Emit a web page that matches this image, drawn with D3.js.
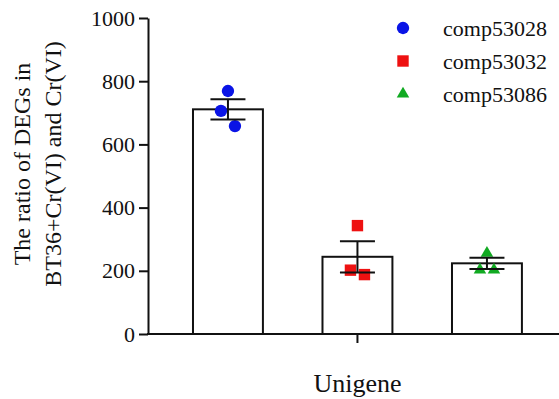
<!DOCTYPE html>
<html>
<head>
<meta charset="utf-8">
<script src="https://cdn.jsdelivr.net/npm/d3@7"></script>
<style>
  body { margin: 0; background: #fff; }
</style>
</head>
<body>
<div class="plot"></div>
<script>
// genes on the x axis (one bar each)
const genes = ["comp53028", "comp53032", "comp53086"]
const geneColors = ["#0a14e6", "#ee1111", "#11aa22"]
const geneShapes = ["circle", "square", "triangle"]
// replicate values
const rep53028 = [769, 706, 658]
const rep53032 = [343, 202, 188]
const rep53086 = [259, 206, 206]
const yTicks = [0, 200, 400, 600, 800, 1000]
const xLabel = "Unigene"
const yLabel = ["The ratio of DEGs in", "BT36+Cr(VI) and Cr(VI)"]

const replicates = [rep53028, rep53032, rep53086]
const dataset = genes.map(function(g, i){
  let vals = replicates[i]
  let m = d3.mean(vals)
  let sem = d3.deviation(vals) / Math.sqrt(vals.length)
  return {name: g, values: vals, mean: m, sem: sem, color: geneColors[i], shape: geneShapes[i]}
})

const W = 559, H = 399
const serif = "'Liberation Serif', 'Times New Roman', 'DejaVu Serif', serif"
let svg = d3.select(".plot").append("svg")
  .attr("width", W).attr("height", H)
  .attr("font-family", serif)
  .style("font-family", serif)

let axisX0 = 148, axisX1 = 559
let yScale = d3.scaleLinear().domain([0, 1000]).range([334, 18])
let xScale = d3.scaleBand().domain(genes)
  .range([163.2, 551.7])
  .paddingInner(0.46).paddingOuter(0.23)

let symType = {circle: d3.symbolCircle, square: d3.symbolSquare, triangle: d3.symbolTriangle}
let symSize = {circle: 120, square: 130, triangle: 68}
function symbol(shape){
  return d3.symbol().type(symType[shape]).size(symSize[shape])()
}

// bars
svg.selectAll(".bar")
  .data(dataset)
  .enter()
  .append("rect")
  .attr("class", "bar")
  .attr("x", d => xScale(d.name))
  .attr("y", d => yScale(d.mean))
  .attr("width", xScale.bandwidth())
  .attr("height", d => yScale(0) - yScale(d.mean))
  .attr("fill", "#fff")
  .attr("stroke", "#111")
  .attr("stroke-width", 2)

// replicate points, spread like prism does
let jitter = [0, -7, 7]
svg.selectAll(".pt")
  .data(dataset.flatMap(d => d.values.map((v, j) => ({d: d, v: v, j: j}))))
  .enter()
  .append("path")
  .attr("class", "pt")
  .attr("d", p => symbol(p.d.shape))
  .attr("transform", function(p){
    let cx = xScale(p.d.name) + xScale.bandwidth() / 2 + jitter[p.j]
    let cy = yScale(p.v) + (p.d.shape == "triangle" ? 1 : 0)
    return "translate(" + cx + "," + cy + ")"
  })
  .attr("fill", p => p.d.color)

// error bars (mean +/- sem)
let err = svg.selectAll(".err")
  .data(dataset)
  .enter()
  .append("g")
  .attr("class", "err")
  .attr("stroke", "#111")
  .attr("stroke-width", 2)
err.append("line")
  .attr("x1", d => xScale(d.name) + xScale.bandwidth() / 2)
  .attr("x2", d => xScale(d.name) + xScale.bandwidth() / 2)
  .attr("y1", d => yScale(d.mean + d.sem))
  .attr("y2", d => yScale(d.mean - d.sem))
;[1, -1].forEach(function(s){
  err.append("line")
    .attr("x1", d => xScale(d.name) + xScale.bandwidth() / 2 - 17.5)
    .attr("x2", d => xScale(d.name) + xScale.bandwidth() / 2 + 17.5)
    .attr("y1", d => yScale(d.mean + s * d.sem))
    .attr("y2", d => yScale(d.mean + s * d.sem))
})

// y axis
let yAxis = d3.axisLeft(yScale).tickValues(yTicks).tickFormat(d3.format("d"))
  .tickSize(9).tickPadding(4).tickSizeOuter(0)
let gy = svg.append("g")
  .attr("transform", "translate(" + axisX0 + ",0)")
  .call(yAxis)
  .attr("font-family", serif)
  .attr("font-size", 22)
gy.selectAll("path, line").attr("stroke", "#111").attr("stroke-width", 2)
gy.selectAll("text").attr("fill", "#111")

// x axis line with single centre tick
svg.append("line")
  .attr("x1", axisX0 - 1).attr("x2", axisX1)
  .attr("y1", yScale(0)).attr("y2", yScale(0))
  .attr("stroke", "#111").attr("stroke-width", 2)
let midX = xScale(genes[1]) + xScale.bandwidth() / 2
svg.append("line")
  .attr("x1", midX).attr("x2", midX)
  .attr("y1", yScale(0)).attr("y2", yScale(0) + 9)
  .attr("stroke", "#111").attr("stroke-width", 2)

svg.append("text")
  .attr("x", midX).attr("y", 392)
  .attr("text-anchor", "middle")
  .attr("font-size", 26)
  .attr("fill", "#111")
  .text(xLabel)

// y label, two lines
svg.append("text")
  .attr("transform", "translate(30,164) rotate(-90)")
  .attr("text-anchor", "middle")
  .attr("font-size", 24)
  .attr("fill", "#111")
  .selectAll("tspan")
  .data(yLabel)
  .enter()
  .append("tspan")
  .attr("x", 0)
  .attr("dy", (d, i) => i == 0 ? 0 : 31)
  .text(d => d)

// legend
let legend = svg.selectAll(".legend")
  .data(dataset)
  .enter()
  .append("g")
  .attr("class", "legend")
  .attr("transform", (d, i) => "translate(403," + (28 + i * 33) + ")")
legend.append("path")
  .attr("d", d => symbol(d.shape))
  .attr("fill", d => d.color)
legend.append("text")
  .attr("x", 40)
  .attr("y", 8)
  .attr("font-size", 22)
  .attr("fill", "#111")
  .text(d => d.name)
</script>
</body>
</html>
